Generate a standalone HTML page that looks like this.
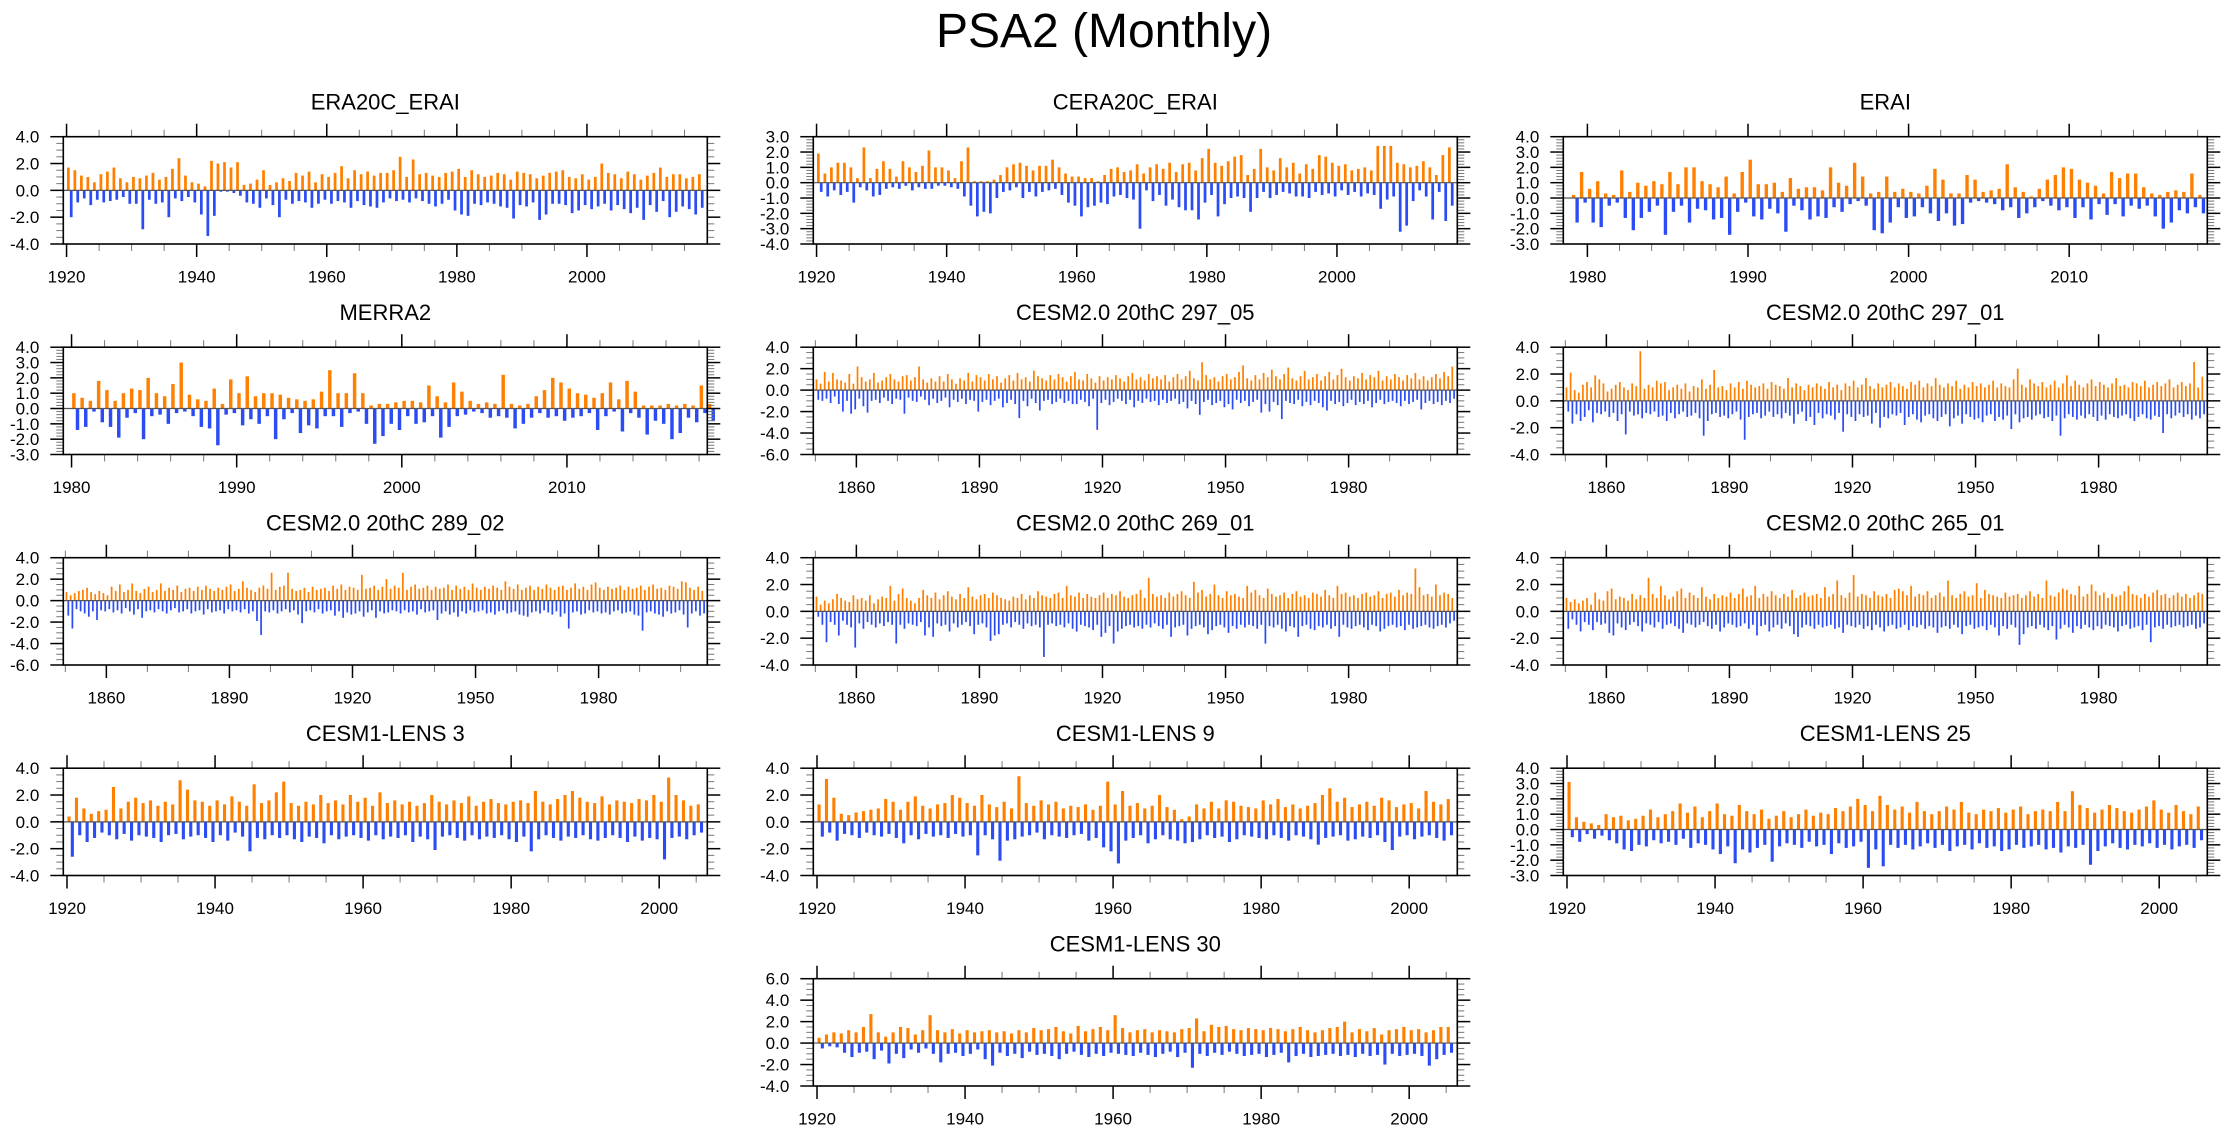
<!DOCTYPE html>
<html><head><meta charset="utf-8"><title>PSA2 (Monthly)</title>
<style>
html,body{margin:0;padding:0;background:#fff;}
svg{display:block;font-family:"Liberation Sans",Arial,sans-serif;}
</style></head>
<body>
<svg id="fig" width="2230" height="1133" viewBox="0 0 2230 1133" xmlns="http://www.w3.org/2000/svg">
<text x="1104" y="47" font-size="48" text-anchor="middle" fill="#000">PSA2 (Monthly)</text>
</svg>
<script>
// ---------- DATA (typical positive / negative peaks per period) ----------
const era20cPos=[1.7,1.5,1.1,1.0,0.6,1.2,1.4,1.7,0.9,0.6,1.0,0.9,1.1,1.3,0.8,1.0,1.6,2.4,1.1,0.6,0.5,0.3,2.2,2.0,2.1,1.7,2.1,0.4,0.5,0.8,1.5,0.4,0.6,0.9,0.7,1.3,1.1,1.4,0.6,1.2,1.0,1.3,1.8,0.9,1.5,1.2,1.4,1.1,1.3,1.3,1.5,2.5,1.0,2.3,1.2,1.3,1.1,1.0,1.3,1.4,1.6,1.0,1.5,1.2,1.0,1.1,1.3,1.2,0.8,1.4,1.3,1.2,0.9,1.1,1.3,1.4,1.5,1.0,0.9,1.2,0.8,1.0,2.0,1.3,1.2,0.9,1.4,1.2,0.8,1.1,1.3,1.7,1.0,1.2,1.2,0.9,1.0,1.2];
const era20cNeg=[-2.0,-0.9,-0.6,-1.1,-0.7,-0.9,-0.8,-0.7,-0.5,-1.0,-1.0,-2.9,-0.7,-1.0,-0.9,-2.0,-0.6,-0.8,-0.5,-0.9,-1.8,-3.4,-1.9,-0.1,-0.1,-0.2,-0.4,-0.9,-1.0,-1.3,-0.6,-1.1,-2.0,-0.7,-1.0,-0.8,-0.9,-1.3,-1.0,-0.7,-1.0,-0.8,-0.9,-1.3,-0.8,-1.1,-1.2,-1.3,-0.9,-0.6,-0.8,-0.7,-0.9,-0.6,-0.8,-1.0,-1.2,-1.0,-0.7,-1.5,-1.8,-1.9,-1.0,-1.1,-0.9,-1.0,-1.2,-1.3,-2.1,-1.1,-1.2,-0.9,-2.2,-1.8,-1.0,-1.0,-1.1,-1.7,-1.5,-1.1,-1.4,-1.2,-1.0,-1.5,-1.1,-1.4,-1.7,-1.3,-2.2,-1.1,-1.6,-0.8,-2.0,-1.6,-1.2,-1.4,-1.8,-1.3];
const cera20cPos=[1.9,0.6,1.0,1.3,1.3,1.0,0.3,2.3,0.3,0.9,1.4,0.9,0.4,1.4,1.0,0.7,1.1,2.1,1.0,1.0,0.8,0.3,1.4,2.3,0.1,0.1,0.1,0.2,0.5,1.0,1.2,1.3,1.1,0.8,1.1,1.1,1.5,1.0,0.6,0.4,0.4,0.3,0.3,0.1,0.5,0.9,1.0,0.7,0.8,1.2,0.6,1.0,1.2,0.9,1.3,0.7,1.2,1.3,0.8,1.6,2.2,1.3,1.1,1.4,1.7,1.8,0.5,0.9,2.2,1.0,0.8,1.6,1.0,1.3,0.6,1.2,0.9,1.8,1.7,1.3,1.1,1.2,0.8,0.9,1.0,0.8,2.4,2.4,2.4,1.3,1.2,1.0,1.1,1.4,1.0,0.5,1.8,2.3];
const cera20cNeg=[-0.6,-0.9,-0.5,-0.8,-0.6,-1.3,-0.3,-0.5,-0.9,-0.8,-0.4,-0.3,-0.4,-0.2,-0.5,-0.3,-0.4,-0.4,-0.2,-0.2,-0.3,-0.4,-0.9,-1.5,-2.2,-1.9,-2.0,-1.0,-0.6,-0.5,-0.3,-1.0,-0.6,-0.9,-0.6,-0.5,-0.4,-0.8,-1.3,-1.5,-2.2,-1.6,-1.5,-1.3,-1.4,-0.9,-0.8,-1.0,-1.1,-3.0,-0.5,-1.2,-0.8,-1.5,-1.1,-1.6,-1.8,-1.8,-2.4,-1.3,-0.8,-2.2,-1.4,-1.0,-0.9,-1.0,-1.9,-1.0,-0.6,-1.0,-0.8,-0.6,-0.7,-0.9,-0.9,-1.0,-0.6,-0.8,-0.7,-0.9,-0.5,-0.8,-0.6,-0.9,-0.7,-0.8,-1.7,-1.1,-0.9,-3.2,-2.8,-1.2,-0.5,-0.9,-2.4,-0.6,-2.5,-1.5];
const eraiPos=[0.2,1.7,0.6,1.1,0.3,0.2,1.8,0.4,1.0,0.8,1.1,0.9,1.7,0.9,2.0,2.0,1.1,0.9,0.7,1.4,0.3,1.7,2.5,0.9,0.9,1.0,0.4,1.3,0.6,0.7,0.7,0.5,2.0,1.0,0.8,2.3,1.4,0.3,0.4,1.4,0.4,0.6,0.4,0.3,0.8,1.9,1.2,0.3,0.3,1.5,1.2,0.4,0.5,0.6,2.2,0.7,0.4,0.1,0.6,1.2,1.5,2.0,1.9,1.2,1.0,0.8,0.3,1.7,1.3,1.6,1.6,0.7,0.3,0.2,0.4,0.5,0.4,1.6,0.2];
const eraiNeg=[-1.6,-0.3,-1.6,-1.9,-0.5,-0.3,-1.3,-2.1,-1.3,-0.9,-0.5,-2.4,-0.9,-0.5,-1.6,-0.7,-0.8,-1.4,-1.3,-2.4,-0.9,-0.3,-1.2,-1.4,-0.7,-1.0,-2.2,-0.5,-0.8,-1.4,-1.2,-1.3,-0.6,-0.9,-0.4,-0.2,-0.5,-2.1,-2.3,-1.6,-0.6,-1.3,-1.2,-0.6,-1.0,-1.5,-1.0,-1.8,-1.7,-0.3,-0.2,-0.3,-0.4,-0.8,-0.6,-1.3,-1.0,-0.6,-0.2,-0.5,-0.8,-0.6,-1.3,-0.6,-1.4,-0.4,-1.1,-0.4,-1.2,-0.5,-0.7,-0.5,-1.2,-2.0,-1.6,-0.8,-1.0,-0.6,-1.0];
const merra2Pos=[1.0,0.7,0.5,1.8,1.2,0.5,1.0,1.3,1.2,2.0,1.0,0.8,1.6,3.0,0.9,0.6,0.5,1.3,0.3,1.9,1.0,2.1,0.8,1.0,1.0,0.9,0.7,0.6,0.5,0.6,1.1,2.5,1.0,1.0,2.3,1.0,0.2,0.3,0.3,0.4,0.5,0.5,0.4,1.5,0.8,0.4,1.7,1.1,0.5,0.3,0.4,0.3,2.2,0.3,0.2,0.3,0.8,1.2,2.0,1.7,1.3,1.0,0.9,0.7,1.0,1.7,0.6,1.8,1.1,0.2,0.2,0.2,0.3,0.2,0.3,0.2,1.5,0.3];
const merra2Neg=[-1.4,-1.2,-0.2,-0.9,-1.2,-1.9,-0.6,-0.3,-2.0,-0.5,-0.4,-1.0,-0.3,-0.2,-0.5,-1.2,-1.3,-2.4,-0.4,-0.3,-1.1,-0.7,-1.0,-0.5,-2.0,-0.7,-0.3,-1.6,-1.1,-1.3,-0.5,-0.5,-1.2,-0.3,-0.2,-1.0,-2.3,-1.8,-1.0,-1.4,-0.5,-1.0,-0.9,-0.5,-1.9,-1.2,-0.5,-0.4,-0.2,-0.3,-0.6,-0.5,-0.6,-1.3,-1.0,-0.6,-0.3,-0.6,-0.5,-0.8,-0.6,-0.5,-0.3,-1.4,-0.5,-0.2,-1.5,-0.3,-0.6,-1.7,-0.8,-1.0,-2.0,-1.6,-0.6,-0.9,-0.3,-0.8];
const c297_05Pos=[1.0,0.6,1.7,0.8,1.6,1.0,0.9,0.7,1.5,0.6,2.2,1.2,0.8,1.0,1.6,0.7,0.9,1.2,1.5,1.0,0.8,1.3,1.4,0.9,1.2,2.2,1.0,0.7,1.1,0.8,1.3,0.8,1.5,1.0,0.6,1.1,0.9,1.6,0.8,1.4,1.2,0.9,1.5,1.0,1.3,0.7,1.1,1.4,0.9,1.6,1.0,1.2,0.8,1.8,1.3,1.1,0.9,1.4,1.0,1.5,1.2,0.8,1.3,1.7,1.0,0.9,1.5,1.1,0.7,1.3,0.9,1.2,1.0,1.4,1.1,0.8,1.3,1.6,1.0,1.2,0.9,1.5,1.1,1.3,1.0,1.4,0.8,1.2,1.5,1.0,1.3,1.8,1.1,0.9,2.6,1.4,1.0,1.2,0.8,1.3,1.5,1.0,1.2,1.7,2.3,1.1,0.9,1.4,1.0,1.6,1.2,1.9,1.3,1.0,1.5,2.1,1.1,0.9,1.3,1.8,1.0,1.2,1.5,0.9,1.3,1.7,1.0,1.4,2.0,1.2,0.9,1.3,1.1,1.6,1.0,1.4,1.2,1.8,0.9,1.3,1.0,1.5,1.2,0.9,1.4,1.1,1.6,1.0,1.3,0.9,1.2,1.5,1.1,1.7,1.3,2.2];
const c297_05Neg=[-0.9,-1.0,-0.8,-1.2,-0.6,-1.3,-2.0,-1.0,-2.2,-1.8,-0.8,-1.5,-2.1,-1.0,-0.9,-1.2,-0.7,-1.0,-1.3,-0.8,-0.9,-2.2,-0.7,-1.0,-1.1,-0.6,-0.9,-1.4,-0.8,-1.2,-1.0,-0.7,-1.6,-0.9,-1.1,-0.8,-1.3,-0.9,-1.0,-2.0,-1.1,-0.9,-1.4,-1.0,-0.8,-1.6,-1.2,-0.9,-1.3,-2.6,-1.0,-1.5,-0.8,-1.2,-1.9,-1.0,-0.9,-1.3,-1.1,-0.8,-1.2,-1.0,-1.3,-1.3,-0.9,-1.1,-1.5,-0.8,-3.7,-1.2,-0.9,-1.4,-1.1,-0.8,-1.0,-1.3,-0.9,-1.6,-1.0,-1.2,-0.8,-1.1,-1.0,-1.4,-0.9,-1.2,-1.0,-0.8,-1.3,-1.1,-1.7,-1.0,-1.3,-2.3,-1.1,-0.9,-1.4,-1.2,-1.0,-1.6,-1.3,-1.8,-0.9,-1.2,-1.0,-1.5,-1.1,-0.9,-2.1,-1.3,-2.0,-1.1,-1.4,-2.7,-1.0,-1.2,-1.3,-0.9,-1.5,-1.1,-1.4,-1.0,-1.2,-1.6,-1.9,-1.0,-1.3,-1.1,-1.5,-1.2,-0.9,-1.4,-1.1,-1.3,-1.0,-1.6,-1.2,-0.9,-1.3,-1.1,-1.0,-1.2,-1.5,-1.0,-1.3,-1.1,-0.9,-1.8,-1.2,-1.0,-1.3,-1.1,-1.4,-1.0,-1.2,-0.8];
const c297_01Pos=[1.0,2.1,0.8,0.6,1.2,1.4,1.0,1.9,1.6,1.3,0.7,0.9,1.2,1.4,1.0,0.8,1.3,1.1,3.7,0.9,1.2,1.0,1.5,1.3,1.4,0.8,1.0,1.2,0.9,1.3,0.7,1.1,1.0,1.6,0.9,1.2,2.3,1.0,1.1,0.8,1.3,1.0,1.4,0.9,1.5,1.2,1.0,1.1,1.3,0.9,1.4,1.2,1.1,0.9,1.7,1.0,1.3,1.1,0.8,1.2,1.0,1.3,1.1,0.9,1.4,1.0,1.2,0.8,1.3,1.1,1.5,1.0,1.2,1.7,1.1,0.9,1.3,1.0,1.2,1.4,1.0,1.3,1.1,0.9,1.4,1.2,1.5,1.0,1.3,1.1,1.7,1.2,1.0,1.3,1.1,1.5,0.9,1.2,1.0,1.4,1.1,1.3,1.0,1.2,1.5,1.0,1.3,1.1,1.0,1.6,2.4,1.2,1.0,1.6,1.3,1.1,1.4,1.0,1.2,1.5,1.0,1.3,1.9,1.1,1.5,1.2,1.0,1.3,1.6,1.1,1.4,1.2,1.0,1.3,1.7,1.1,1.2,1.0,1.4,1.3,1.1,1.5,1.0,1.2,1.4,1.1,1.3,1.6,1.0,1.2,1.4,1.1,1.3,2.9,1.0,1.8];
const c297_01Neg=[-0.8,-1.7,-1.0,-1.5,-1.2,-0.7,-1.6,-0.9,-1.0,-0.8,-1.2,-0.9,-1.5,-1.0,-2.5,-0.8,-1.1,-1.0,-1.3,-0.9,-1.0,-0.8,-1.2,-1.1,-1.5,-0.9,-1.3,-1.0,-0.8,-1.2,-1.1,-0.9,-1.3,-2.6,-1.5,-1.0,-0.9,-1.2,-1.1,-1.3,-1.0,-0.8,-1.4,-2.9,-1.2,-1.0,-0.9,-1.3,-1.1,-0.8,-1.2,-1.0,-1.3,-0.9,-1.1,-1.7,-1.0,-0.8,-1.5,-1.2,-1.8,-0.9,-1.3,-1.0,-1.1,-1.4,-0.9,-2.3,-1.0,-1.2,-1.5,-1.0,-1.2,-1.1,-1.7,-0.9,-2.0,-1.2,-1.3,-1.0,-1.1,-0.9,-1.8,-1.2,-1.0,-1.4,-1.6,-1.1,-1.0,-1.3,-1.5,-1.2,-1.0,-1.9,-1.3,-1.1,-1.7,-1.0,-1.2,-1.4,-1.3,-1.6,-1.1,-1.0,-1.5,-1.2,-1.4,-1.1,-2.1,-1.0,-1.6,-1.3,-1.2,-1.4,-1.1,-1.0,-1.3,-1.2,-1.5,-1.1,-2.6,-1.3,-1.0,-1.2,-1.4,-1.1,-1.3,-1.0,-1.2,-1.5,-1.1,-1.4,-1.0,-1.2,-1.3,-1.1,-1.0,-1.3,-1.5,-1.2,-1.0,-1.3,-1.4,-1.1,-1.2,-2.4,-1.0,-1.3,-1.1,-0.9,-1.2,-1.0,-1.4,-1.1,-1.3,-1.0];
const c289_02Pos=[0.8,0.5,0.7,0.9,1.0,1.2,0.8,0.6,0.9,0.7,0.5,1.3,0.9,1.5,0.8,1.0,1.6,0.9,0.7,1.1,1.3,0.8,1.0,1.6,0.9,1.2,1.0,1.4,0.8,1.1,1.2,0.9,1.3,1.0,1.4,1.1,0.9,1.2,1.0,1.3,1.5,0.9,1.1,1.8,1.2,1.0,0.8,1.2,1.4,1.1,2.6,1.0,1.3,1.4,2.6,1.1,0.9,1.0,1.2,0.8,1.3,1.0,1.1,1.2,0.9,1.4,1.1,1.5,1.0,1.3,1.2,1.0,2.4,1.1,1.2,1.4,1.0,1.3,2.0,1.1,1.4,1.2,2.6,1.0,1.3,1.5,1.1,1.2,1.4,1.0,1.3,1.1,1.2,1.5,1.0,1.4,1.1,1.3,1.0,1.6,1.2,1.0,1.3,1.1,1.4,1.2,1.0,1.8,1.3,1.1,1.5,1.0,1.2,1.4,1.0,1.3,1.1,1.5,1.2,1.0,1.3,1.4,1.0,1.2,1.6,1.1,1.3,1.0,1.5,1.7,1.2,1.0,1.3,1.1,1.2,1.4,1.0,1.3,1.1,1.2,1.4,1.0,1.3,1.5,1.1,1.2,1.0,1.4,1.3,1.1,1.8,1.7,1.2,1.0,1.3,0.9];
const c289_02Neg=[-1.4,-2.6,-0.8,-1.0,-1.2,-1.5,-1.0,-1.8,-0.9,-1.0,-0.8,-1.1,-0.9,-1.2,-0.7,-1.0,-1.3,-0.8,-1.6,-1.0,-0.9,-1.1,-0.8,-1.0,-1.2,-0.9,-0.7,-1.1,-1.0,-0.8,-1.2,-1.0,-0.9,-1.3,-0.8,-1.1,-1.0,-0.9,-1.2,-0.8,-1.0,-0.9,-1.1,-0.8,-1.2,-1.0,-1.9,-3.2,-1.0,-1.1,-0.9,-1.2,-1.0,-0.8,-1.1,-0.9,-1.3,-2.1,-1.0,-0.9,-1.1,-0.8,-1.2,-1.0,-0.9,-1.4,-1.0,-1.6,-1.1,-1.3,-1.2,-1.0,-1.5,-1.1,-0.9,-1.6,-1.0,-1.2,-1.1,-0.9,-1.0,-1.2,-0.9,-1.1,-1.0,-1.3,-0.8,-1.1,-1.0,-0.9,-1.8,-1.2,-1.0,-1.3,-1.1,-1.5,-1.0,-1.2,-0.9,-1.1,-1.0,-0.9,-1.2,-1.1,-1.3,-1.0,-0.9,-1.2,-1.1,-1.0,-1.3,-1.4,-1.5,-1.1,-1.0,-1.2,-0.9,-1.1,-1.3,-1.0,-1.5,-1.2,-2.6,-1.1,-1.0,-1.3,-1.2,-0.9,-1.1,-1.0,-1.2,-1.1,-1.3,-1.0,-0.9,-1.2,-1.1,-1.0,-1.3,-1.4,-2.8,-1.1,-1.0,-1.2,-1.3,-1.5,-1.0,-1.2,-1.1,-0.9,-1.3,-2.5,-1.2,-1.0,-1.4,-1.2];
const c269_01Pos=[1.1,0.5,0.8,0.6,0.9,1.3,1.0,0.8,0.7,1.2,0.9,1.0,0.8,1.2,0.6,0.9,1.1,1.0,1.9,0.8,1.3,1.7,1.0,0.8,0.6,1.0,1.6,1.2,1.0,1.4,0.9,1.2,1.5,1.1,0.9,1.3,1.0,1.8,1.1,0.9,1.2,1.3,1.0,1.4,1.2,1.0,0.9,0.8,1.1,1.0,1.3,0.9,1.2,1.0,1.5,1.2,1.1,1.0,1.3,1.4,1.0,1.9,1.2,1.1,1.4,1.0,1.3,1.1,1.0,1.2,1.4,1.0,1.3,1.2,1.5,1.1,1.0,1.2,1.3,1.6,1.0,2.5,1.3,1.1,1.2,1.0,1.4,1.1,1.3,1.5,1.2,1.0,2.2,1.4,1.6,1.1,1.3,2.0,1.2,1.0,1.5,1.2,1.3,1.1,1.0,1.9,1.4,1.6,1.2,1.0,1.7,1.3,1.1,1.2,1.4,1.0,1.3,1.5,1.1,1.2,1.0,1.4,1.3,1.1,1.6,1.2,1.0,1.9,1.3,1.4,1.1,1.2,1.0,1.3,1.4,1.1,1.2,1.5,1.0,1.3,1.4,1.1,1.6,1.2,1.4,1.3,3.2,1.8,1.2,1.3,1.1,2.0,1.2,1.4,1.3,1.0];
const c269_01Neg=[-0.4,-1.0,-2.3,-0.8,-1.0,-1.8,-0.7,-1.0,-1.2,-2.7,-0.9,-1.3,-0.8,-1.0,-1.2,-0.9,-1.1,-0.8,-1.0,-2.4,-1.0,-1.3,-0.9,-1.0,-1.1,-0.8,-1.8,-1.2,-1.9,-0.9,-1.1,-1.0,-1.5,-0.9,-1.2,-1.0,-0.8,-1.1,-1.7,-1.0,-0.9,-1.2,-2.2,-1.8,-1.7,-1.0,-0.9,-1.2,-0.8,-1.0,-1.3,-0.9,-1.1,-1.0,-1.2,-3.4,-1.0,-0.9,-1.1,-1.0,-1.2,-0.9,-1.3,-1.5,-1.0,-1.1,-1.2,-1.4,-1.0,-1.9,-1.6,-1.1,-2.4,-1.5,-1.3,-1.1,-1.0,-1.2,-1.1,-1.3,-1.0,-1.2,-0.9,-1.1,-1.3,-1.0,-1.9,-1.2,-1.1,-1.0,-1.8,-1.3,-1.1,-1.0,-1.2,-1.7,-1.4,-1.1,-1.0,-1.2,-1.6,-1.1,-1.3,-1.0,-1.2,-1.0,-1.1,-1.3,-1.0,-2.4,-1.1,-1.2,-1.0,-1.3,-1.5,-1.1,-1.2,-1.9,-1.1,-1.0,-1.3,-1.4,-1.1,-1.2,-1.0,-1.3,-1.1,-1.9,-1.0,-1.2,-1.3,-1.1,-1.0,-1.2,-1.4,-1.0,-1.1,-1.5,-1.3,-1.1,-1.0,-1.2,-1.1,-1.4,-1.0,-1.3,-1.2,-1.1,-1.0,-1.2,-1.3,-1.1,-1.0,-1.2,-0.9,-0.7];
const c265_01Pos=[1.0,0.7,0.9,0.6,0.8,1.0,0.5,1.4,0.9,0.8,1.5,1.7,0.9,1.1,1.0,0.8,1.3,0.9,1.2,1.0,2.5,1.3,1.0,1.9,1.2,0.9,1.1,1.5,1.7,1.0,1.4,1.2,1.0,1.8,1.1,0.9,1.3,1.0,1.2,1.1,1.4,1.0,1.3,1.7,1.1,1.2,1.9,1.0,1.3,1.1,1.5,1.2,1.0,1.3,1.1,1.6,1.0,1.2,1.4,1.1,1.2,1.3,1.0,1.8,1.1,1.3,2.3,1.2,1.0,1.4,2.7,1.1,1.3,1.2,1.0,1.5,1.2,1.1,1.3,1.0,1.6,1.7,1.5,1.2,1.9,1.1,1.3,1.2,1.5,1.0,1.2,1.4,1.1,2.3,1.2,1.0,1.3,1.5,1.1,1.2,2.1,1.0,1.6,1.3,1.2,1.1,1.0,1.4,1.1,1.2,1.3,1.0,1.2,1.5,1.1,1.3,1.0,2.3,1.2,1.1,1.4,1.7,1.6,1.3,1.2,1.9,1.1,1.3,2.0,1.5,1.2,1.4,1.0,1.3,1.1,1.2,1.5,1.9,1.3,1.2,1.0,1.3,1.1,1.4,1.6,1.2,1.3,1.0,1.2,1.4,1.1,1.3,1.0,1.2,1.4,1.3];
const c265_01Neg=[-1.3,-0.6,-1.0,-1.5,-0.8,-1.0,-1.4,-0.8,-1.0,-0.9,-1.6,-1.8,-0.9,-1.2,-1.4,-1.0,-0.8,-1.1,-1.5,-0.9,-1.0,-1.2,-0.8,-1.3,-1.0,-0.9,-1.1,-1.3,-1.6,-0.9,-1.0,-1.2,-1.0,-0.8,-1.1,-1.3,-1.0,-1.5,-1.2,-0.9,-1.0,-1.2,-1.1,-0.9,-1.3,-1.0,-1.8,-1.1,-1.0,-1.5,-1.2,-1.0,-1.3,-0.9,-1.1,-1.7,-1.9,-1.2,-1.0,-1.1,-1.3,-1.0,-1.2,-1.1,-1.0,-1.3,-1.2,-1.6,-1.0,-1.1,-1.2,-1.0,-1.3,-1.1,-1.4,-1.0,-1.2,-1.5,-1.1,-1.0,-1.3,-1.2,-1.0,-1.4,-1.1,-1.2,-1.0,-1.3,-1.1,-1.2,-1.6,-1.2,-1.1,-1.3,-1.0,-1.2,-1.7,-1.1,-1.0,-1.3,-1.2,-1.1,-1.4,-1.0,-1.2,-1.8,-1.1,-1.3,-1.0,-1.2,-2.5,-1.7,-1.2,-1.1,-1.3,-1.0,-1.2,-1.4,-1.1,-2.1,-1.3,-1.0,-1.2,-1.6,-1.1,-1.3,-1.0,-1.2,-1.4,-1.1,-1.3,-1.0,-1.1,-1.2,-1.5,-1.1,-1.0,-1.3,-1.2,-1.1,-1.4,-1.0,-2.3,-1.2,-1.1,-1.3,-1.0,-1.2,-1.1,-1.0,-1.2,-1.1,-1.0,-1.3,-1.2,-0.9];
const lens3Pos=[0.4,1.8,1.0,0.6,0.8,0.9,2.6,1.0,1.5,1.8,1.4,1.6,1.2,1.5,1.3,3.1,2.4,1.6,1.5,1.2,1.6,1.3,1.9,1.5,1.2,2.8,1.4,1.6,2.2,3.0,1.4,1.2,1.5,1.3,2.0,1.4,1.6,1.3,2.0,1.5,1.8,1.2,2.2,1.4,1.6,1.3,1.5,1.2,1.4,2.0,1.5,1.3,1.6,1.4,1.9,1.2,1.5,1.7,1.4,1.3,1.5,1.6,1.4,2.3,1.5,1.3,1.7,2.0,2.3,1.8,1.5,1.4,1.9,1.3,1.6,1.5,1.4,1.7,1.6,2.0,1.5,3.3,2.0,1.6,1.2,1.3];
const lens3Neg=[-2.6,-1.0,-1.5,-1.2,-0.8,-1.0,-1.3,-0.9,-1.4,-1.0,-1.1,-1.2,-1.5,-1.0,-0.9,-1.3,-1.1,-1.0,-1.2,-1.5,-1.0,-1.4,-0.8,-1.1,-2.2,-1.2,-1.3,-1.0,-1.2,-1.0,-1.3,-1.5,-1.1,-1.2,-1.6,-1.0,-1.3,-1.1,-1.0,-1.2,-1.4,-1.0,-1.3,-1.1,-1.2,-1.0,-1.5,-1.1,-1.3,-2.1,-1.1,-1.0,-1.2,-1.4,-1.0,-1.3,-1.1,-1.2,-1.0,-1.3,-1.5,-1.1,-2.2,-1.3,-1.0,-1.2,-1.4,-1.1,-1.2,-1.0,-1.3,-1.4,-1.2,-1.0,-1.2,-1.5,-1.1,-1.4,-1.2,-1.3,-2.8,-1.2,-1.1,-1.3,-1.0,-0.8];
const lens9Pos=[1.3,3.2,1.8,0.6,0.5,0.7,0.8,0.9,1.0,1.7,1.5,0.9,1.5,1.9,1.2,1.0,1.3,1.4,2.0,1.8,1.4,1.2,2.0,1.3,1.1,1.5,1.0,3.4,1.4,1.2,1.6,1.3,1.5,1.0,1.2,1.1,1.3,0.9,1.2,3.0,1.3,2.3,1.2,1.4,1.0,1.2,2.0,1.1,0.9,0.2,0.4,1.3,1.0,1.5,1.0,1.6,1.5,1.2,1.1,1.0,1.6,1.3,1.7,1.1,1.3,1.0,1.2,1.4,2.0,2.5,1.5,1.8,1.1,1.3,1.5,1.2,1.8,1.6,1.1,1.3,1.4,1.0,2.3,1.5,1.3,1.7];
const lens9Neg=[-1.1,-0.8,-1.4,-0.9,-1.0,-1.2,-0.8,-1.0,-1.1,-0.9,-1.2,-1.6,-1.0,-1.3,-0.9,-1.1,-1.0,-1.2,-0.9,-1.1,-1.0,-2.5,-1.0,-1.3,-2.9,-1.4,-1.3,-1.1,-1.0,-0.8,-1.3,-1.0,-1.1,-1.2,-1.0,-0.9,-1.4,-1.2,-1.9,-2.2,-3.1,-1.4,-1.2,-1.0,-1.6,-1.3,-1.0,-1.3,-1.4,-1.6,-1.5,-1.3,-1.0,-1.2,-1.1,-1.5,-1.3,-1.0,-1.1,-1.2,-1.3,-1.0,-1.2,-1.4,-1.0,-1.1,-1.3,-1.7,-1.2,-1.1,-1.0,-1.4,-1.3,-1.1,-1.2,-1.0,-1.5,-2.1,-1.1,-1.0,-1.3,-1.1,-1.0,-1.2,-1.4,-1.0];
const lens25Pos=[3.1,0.8,0.5,0.4,0.3,1.0,0.8,0.9,0.6,0.7,0.9,1.3,0.8,1.0,1.2,1.7,1.1,1.5,0.8,1.2,1.7,1.0,0.9,1.6,1.2,1.0,1.3,0.7,0.9,1.2,0.8,1.0,1.3,0.9,1.1,1.0,1.4,1.2,1.5,2.0,1.6,1.2,2.2,1.6,1.3,1.5,1.1,1.8,1.2,1.0,1.2,1.5,1.3,1.8,1.1,1.0,1.3,1.2,1.4,1.1,1.3,1.5,1.0,1.2,1.3,1.2,1.8,1.2,2.5,1.6,1.4,1.1,1.3,1.6,1.4,1.2,1.1,1.3,1.5,1.9,1.3,1.1,1.6,1.2,1.0,1.5];
const lens25Neg=[-0.5,-0.8,-0.3,-0.6,-0.4,-0.7,-0.9,-1.3,-1.4,-1.0,-1.1,-0.7,-0.9,-0.8,-1.0,-0.6,-1.2,-0.9,-1.0,-1.3,-1.6,-1.1,-2.2,-1.3,-1.5,-1.2,-1.0,-2.1,-1.1,-0.9,-1.0,-1.2,-0.8,-1.1,-1.0,-1.6,-0.9,-1.2,-1.1,-0.8,-2.5,-1.3,-2.4,-1.0,-1.2,-1.0,-1.3,-1.1,-0.9,-1.2,-1.0,-1.4,-1.1,-1.0,-1.3,-0.9,-1.2,-1.1,-1.4,-1.3,-1.0,-1.2,-1.1,-1.0,-1.3,-1.2,-1.5,-1.1,-1.2,-1.0,-2.3,-1.4,-1.1,-0.9,-1.2,-1.3,-1.0,-1.1,-0.9,-1.2,-1.0,-1.3,-1.1,-1.0,-1.2,-0.7];
const lens30Pos=[0.5,0.8,1.0,0.9,1.2,1.0,1.5,2.7,1.0,0.6,1.0,1.5,1.4,0.8,1.2,2.6,1.2,1.0,1.3,0.9,1.2,1.0,1.1,1.2,1.0,1.1,0.9,1.2,1.0,1.4,1.2,1.3,1.5,1.1,0.9,1.6,1.1,1.3,1.5,1.2,2.6,1.4,1.0,1.2,1.3,1.0,1.2,1.1,1.0,1.3,1.4,2.3,1.1,1.7,1.5,1.6,1.3,1.2,1.4,1.3,1.2,1.4,1.3,1.1,1.3,1.5,1.2,1.0,1.2,1.4,1.5,2.0,1.0,1.3,1.1,1.4,0.8,1.2,1.3,1.5,1.2,1.3,1.0,1.2,1.5,1.5];
const lens30Neg=[-0.5,-0.3,-0.4,-0.9,-1.3,-0.9,-0.8,-1.5,-0.7,-1.9,-1.0,-1.4,-0.6,-0.9,-0.5,-1.0,-1.8,-1.0,-0.9,-1.2,-1.0,-0.6,-1.5,-2.1,-0.9,-1.2,-1.0,-1.4,-0.8,-1.1,-1.0,-1.2,-1.5,-1.0,-0.8,-1.1,-1.3,-1.0,-1.2,-0.9,-1.0,-1.1,-1.2,-0.9,-1.1,-1.3,-1.0,-0.8,-1.3,-0.9,-2.3,-1.0,-1.2,-0.9,-1.1,-0.8,-1.0,-1.2,-1.1,-1.0,-1.3,-1.1,-0.9,-1.8,-1.2,-1.0,-1.3,-1.2,-1.1,-1.0,-1.2,-1.1,-1.3,-1.0,-1.2,-1.1,-2.0,-1.0,-1.2,-1.1,-1.0,-1.2,-2.1,-1.5,-1.1,-0.9];

// tick label arrays
const xTicks20=[1920,1940,1960,1980,2000];
const xTicks10=[1980,1990,2000,2010];
const xTicks30=[1860,1890,1920,1950,1980];

// ---------- LAYOUT ----------
const NS="http://www.w3.org/2000/svg";
const svg=document.getElementById('fig');
const COLX=[63.3,813.3,1563.3], BOXW=644, BOXH=107.3;
const ROWY=[136.7,347.2,557.7,768.2,978.7];
const ORANGE="#ff8000", BLUE="#2b4cf5";

const panels=[
 {slug:'era20c-erai',title:'ERA20C_ERAI',c:0,r:0,x0:1919.5,x1:2018.5,y0:-4,y1:4,yMaj:2,yMin:0.5,xt:xTicks20,xMin:5,start:1920,step:1,pos:era20cPos,neg:era20cNeg},
 {slug:'cera20c-erai',title:'CERA20C_ERAI',c:1,r:0,x0:1919.5,x1:2018.5,y0:-4,y1:3,yMaj:1,yMin:0.2,xt:xTicks20,xMin:5,start:1920,step:1,pos:cera20cPos,neg:cera20cNeg},
 {slug:'erai',title:'ERAI',c:2,r:0,x0:1978.5,x1:2018.6,y0:-3,y1:4,yMaj:1,yMin:0.2,xt:xTicks10,xMin:2,start:1979,step:0.5,pos:eraiPos,neg:eraiNeg},
 {slug:'merra2',title:'MERRA2',c:0,r:1,x0:1979.5,x1:2018.5,y0:-3,y1:4,yMaj:1,yMin:0.2,xt:xTicks10,xMin:2,start:1980,step:0.5,pos:merra2Pos,neg:merra2Neg},
 {slug:'cesm2-297-05',title:'CESM2.0 20thC 297_05',c:1,r:1,x0:1849.5,x1:2006.5,y0:-6,y1:4,yMaj:2,yMin:0.5,xt:xTicks30,xMin:10,start:1850,step:1,pos:c297_05Pos,neg:c297_05Neg},
 {slug:'cesm2-297-01',title:'CESM2.0 20thC 297_01',c:2,r:1,x0:1849.5,x1:2006.5,y0:-4,y1:4,yMaj:2,yMin:0.5,xt:xTicks30,xMin:10,start:1850,step:1,pos:c297_01Pos,neg:c297_01Neg},
 {slug:'cesm2-289-02',title:'CESM2.0 20thC 289_02',c:0,r:2,x0:1849.5,x1:2006.5,y0:-6,y1:4,yMaj:2,yMin:0.5,xt:xTicks30,xMin:10,start:1850,step:1,pos:c289_02Pos,neg:c289_02Neg},
 {slug:'cesm2-269-01',title:'CESM2.0 20thC 269_01',c:1,r:2,x0:1849.5,x1:2006.5,y0:-4,y1:4,yMaj:2,yMin:0.5,xt:xTicks30,xMin:10,start:1850,step:1,pos:c269_01Pos,neg:c269_01Neg},
 {slug:'cesm2-265-01',title:'CESM2.0 20thC 265_01',c:2,r:2,x0:1849.5,x1:2006.5,y0:-4,y1:4,yMaj:2,yMin:0.5,xt:xTicks30,xMin:10,start:1850,step:1,pos:c265_01Pos,neg:c265_01Neg},
 {slug:'cesm1-lens-3',title:'CESM1-LENS 3',c:0,r:3,x0:1919.5,x1:2006.5,y0:-4,y1:4,yMaj:2,yMin:0.5,xt:xTicks20,xMin:5,start:1920,step:1,pos:lens3Pos,neg:lens3Neg},
 {slug:'cesm1-lens-9',title:'CESM1-LENS 9',c:1,r:3,x0:1919.5,x1:2006.5,y0:-4,y1:4,yMaj:2,yMin:0.5,xt:xTicks20,xMin:5,start:1920,step:1,pos:lens9Pos,neg:lens9Neg},
 {slug:'cesm1-lens-25',title:'CESM1-LENS 25',c:2,r:3,x0:1919.5,x1:2006.5,y0:-3,y1:4,yMaj:1,yMin:0.2,xt:xTicks20,xMin:5,start:1920,step:1,pos:lens25Pos,neg:lens25Neg},
 {slug:'cesm1-lens-30',title:'CESM1-LENS 30',c:1,r:4,x0:1919.5,x1:2006.5,y0:-4,y1:6,yMaj:2,yMin:0.5,xt:xTicks20,xMin:5,start:1920,step:1,pos:lens30Pos,neg:lens30Neg}
];

function mk(tag,attrs,parent){
  const e=document.createElementNS(NS,tag);
  for(const k in attrs) e.setAttribute(k,attrs[k]);
  parent.appendChild(e);
  return e;
}
function line(g,x1,y1,x2,y2,stroke,w){
  return mk('line',{x1:x1,y1:y1,x2:x2,y2:y2,stroke:stroke,'stroke-width':w},g);
}

panels.forEach(p=>{
  const L=COLX[p.c], T=ROWY[p.r], R=L+BOXW, B=T+BOXH;
  const sx=t=>L+(t-p.x0)/(p.x1-p.x0)*BOXW;
  const sy=v=>B-(v-p.y0)/(p.y1-p.y0)*BOXH;
  const g=mk('g',{},svg);
  
  

  const title=mk('text',{x:L+BOXW/2,y:T-27,'font-size':22,'text-anchor':'middle',fill:'#000'},g);
  title.textContent=p.title;
  
  

  // bars
  const bars=mk('g',{},g);
  
  
  const pxPer=BOXW/(p.x1-p.x0)*p.step;
  const bw=Math.max(1.2,pxPer*0.42);
  const y0=sy(0);
  p.pos.forEach((v,i)=>{
    const cx=sx(p.start+i*p.step+p.step*0.28);
    const r=mk('rect',{x:(cx-bw/2).toFixed(2),y:sy(v).toFixed(2),width:bw.toFixed(2),height:(y0-sy(v)).toFixed(2),fill:ORANGE},bars);
    
    
  });
  p.neg.forEach((v,i)=>{
    const cx=sx(p.start+i*p.step+p.step*0.72);
    const r=mk('rect',{x:(cx-bw/2).toFixed(2),y:y0.toFixed(2),width:bw.toFixed(2),height:(sy(v)-y0).toFixed(2),fill:BLUE},bars);
    
    
  });

  // zero line
  const z=line(g,L,y0,R,y0,'#555',1.2);
  
  

  // axes ticks
  const ax=mk('g',{},g);
  
  
  // y minor
  const nMin=Math.round((p.y1-p.y0)/p.yMin);
  for(let k=0;k<=nMin;k++){
    const v=p.y0+k*p.yMin, y=sy(v);
    const isMaj=Math.abs(v/p.yMaj-Math.round(v/p.yMaj))<1e-6;
    const len=isMaj?13:7, col=isMaj?'#000':'#777', w=isMaj?1.5:1;
    line(ax,L-len,y,L,y,col,w);
    line(ax,R,y,R+len,y,col,w);
    if(isMaj){
      const t=mk('text',{x:L-24,y:y+6,'font-size':17,'text-anchor':'end',fill:'#000'},ax);
      t.textContent=v.toFixed(1);
      
      
    }
  }
  // x minor
  const firstMin=Math.ceil(p.x0/p.xMin)*p.xMin;
  for(let t=firstMin;t<=p.x1;t+=p.xMin){
    const x=sx(t);
    line(ax,x,T-7,x,T,'#777',1);
    line(ax,x,B,x,B+7,'#777',1);
  }
  p.xt.forEach(t=>{
    const x=sx(t);
    line(ax,x,T-13,x,T,'#000',1.5);
    line(ax,x,B,x,B+13,'#000',1.5);
    const tx=mk('text',{x:x,y:B+38.7,'font-size':17,'text-anchor':'middle',fill:'#000'},ax);
    tx.textContent=String(t);
    
    
  });
  const box=mk('rect',{x:L,y:T,width:BOXW,height:BOXH,fill:'none',stroke:'#000','stroke-width':1.6},g);
  
  
});
</script>
</body></html>
